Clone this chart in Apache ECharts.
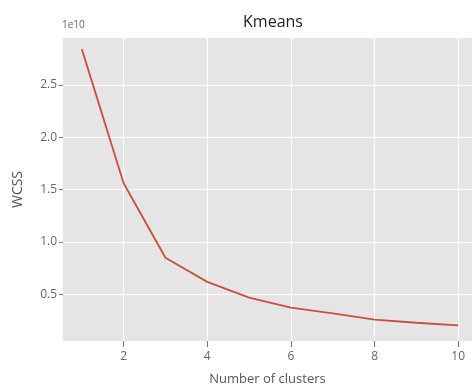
<!DOCTYPE html>
<html><head><meta charset="utf-8">
<script src="https://cdn.jsdelivr.net/npm/echarts@6/dist/echarts.min.js"></script>
<style>html,body{margin:0;padding:0;background:#fff}#c{width:472px;height:387px}</style>
</head><body><div id="c"></div>
<script>
const clusters = [1,2,3,4,5,6,7,8,9,10];
const wcss = [2.84,1.56,0.85,0.62,0.47,0.375,0.32,0.26,0.23,0.205]; // units of 1e10
const xTicks = [2,4,6,8,10];
const yTicks = [0.5,1.0,1.5,2.0,2.5];
const titleText = 'Kmeans';
const xName = 'Number of clusters';
const yName = 'WCSS';
const offsetText = '1e10';

const chart = echarts.init(document.getElementById('c'), null, {renderer:'canvas'});
const font = 'Open Sans';
chart.setOption({
  animation:false,
  backgroundColor:'#fff',
  title:{text:titleText,left:268,top:9,textAlign:'center',
    textStyle:{fontFamily:font,fontSize:16,fontWeight:'normal',color:'#222'}},
  graphic:[{type:'text',left:62,top:20,style:{text:offsetText,fontFamily:font,fontSize:10,fill:'#666'}}],
  grid:{left:63,top:38,right:0,bottom:46,show:true,backgroundColor:'#e5e5e5',borderWidth:0,
    outerBoundsMode:'none',containLabel:false},
  xAxis:{type:'value',min:0.55,max:10.33,
    name:xName,nameLocation:'middle',nameGap:32,
    nameTextStyle:{fontFamily:font,fontSize:13,color:'#555'},
    axisLine:{show:false},
    axisTick:{show:true,length:6,lineStyle:{color:'#777'},customValues:xTicks},
    axisLabel:{fontFamily:font,fontSize:12,color:'#666',margin:10,customValues:xTicks,formatter:v=>String(v)},
    splitLine:{show:true,lineStyle:{color:'#fff',width:1.2}}},
  yAxis:{type:'value',min:0.056,max:2.946,
    name:yName,nameLocation:'middle',nameGap:38,nameRotate:90,
    nameTextStyle:{fontFamily:font,fontSize:14,color:'#555'},
    axisLine:{show:false},
    axisTick:{show:true,length:4,lineStyle:{color:'#777'},customValues:yTicks},
    axisLabel:{fontFamily:font,fontSize:12,color:'#666',margin:6,customValues:yTicks,formatter:v=>v.toFixed(1)},
    splitLine:{show:true,lineStyle:{color:'#fff',width:1.2}}},
  series:[{type:'line',data:clusters.map((c,i)=>[c,wcss[i]]),symbol:'none',
    lineStyle:{color:'#C9503C',width:1.8}}]
});
</script></body></html>
